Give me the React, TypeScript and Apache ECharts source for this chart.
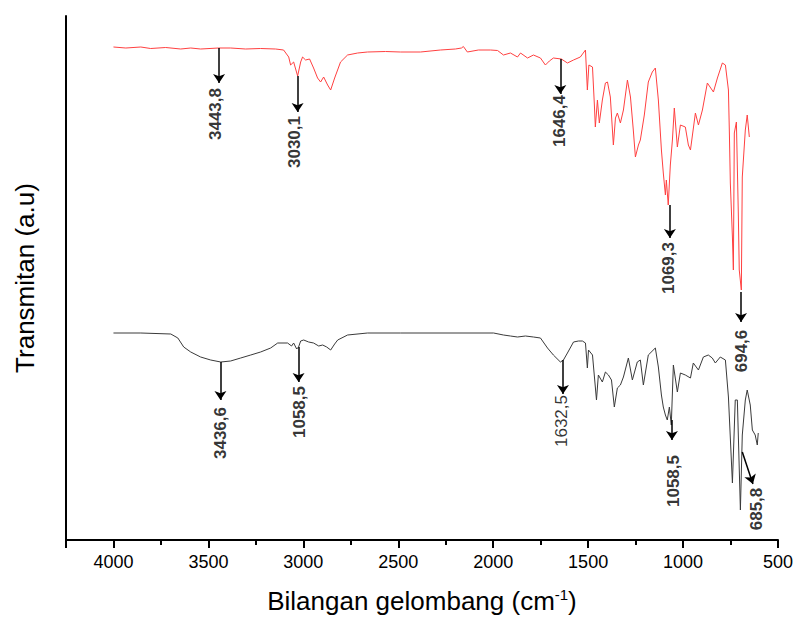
import React, { useEffect, useRef } from "react";
import * as echarts from "echarts";

// Wavenumber (cm-1) vs transmittance (arbitrary units)
const redSpectrum: number[][] = [
  [4000,493],[3935,492],[3856,493],[3804,491.5],[3725,492.5],[3646,491],[3593,492],[3541,491],[3446,492],[3383,492],
  [3304,491],[3225,491.5],[3146,491],[3104,490],[3077,483],[3067,475],[3051,478],[3030,464],[3014,478],[3004,483],
  [2988,480],[2967,481],[2946,472],[2925,462],[2909,458],[2893,463],[2872,455],[2856,450],[2835,462],[2804,478],
  [2767,485],[2714,487],[2662,488],[2567,488.5],[2488,488],[2383,488],[2278,490],[2199,491],[2167,492],[2157,493.5],
  [2136,488],[2078,490],[2014,490],[1977,489.5],[1946,485],[1909,487],[1872,483],[1856,487],[1819,482],[1788,485],
  [1751,482],[1725,475],[1704,479],[1683,482],[1641,481],[1609,477],[1577,480],[1541,483],[1514,490],[1504,450],
  [1496,475],[1477,473],[1467,435],[1462,413],[1451,440],[1441,417],[1425,440],[1409,457],[1398,458],[1383,443],
  [1372,410],[1367,395],[1356,422],[1346,427],[1330,417],[1314,430],[1293,460],[1277,443],[1262,410],[1251,383],
  [1235,395],[1225,400],[1204,425],[1183,458],[1162,468],[1146,472],[1130,440],[1114,390],[1104,367],[1093,345],
  [1088,360],[1078,335],[1067,375],[1056,400],[1046,432],[1030,393],[1014,415],[988,413],[972,395],[961,390],
  [935,427],[919,415],[898,430],[872,457],[840,448],[819,462],[793,477],[777,475],[761,450],[756,407],
  [751,357],[740,303],[735,270],[730,407],[719,418],[709,327],[704,270],[693,250],[688,363],[672,410],
  [662,425],[651,403]
];

const blackSpectrum: number[][] = [
  [4000,207],[3856,207],[3698,206],[3661,202],[3630,193],[3593,188],[3541,183],[3488,180],[3435,178],[3383,179],
  [3330,182],[3277,185],[3225,188],[3172,192],[3135,197],[3083,197],[3062,194],[3051,197],[3035,191],[3025,193],
  [3014,199],[2998,200],[2972,198],[2946,197],[2919,194],[2898,195],[2877,193],[2856,190],[2835,196],[2819,200],
  [2767,205],[2662,207],[2488,207],[1998,207],[1946,205],[1909,204],[1872,203],[1830,204],[1788,203],[1751,202],
  [1714,192],[1683,185],[1646,178],[1630,180],[1609,187],[1577,198],[1551,199],[1530,199],[1514,197],[1504,172],
  [1498,190],[1477,185],[1456,140],[1446,165],[1425,158],[1409,168],[1393,165],[1377,160],[1362,133],[1346,152],
  [1330,155],[1314,163],[1288,182],[1267,160],[1241,178],[1225,180],[1209,155],[1183,185],[1146,192],[1130,173],
  [1114,145],[1104,133],[1093,125],[1083,120],[1072,133],[1062,115],[1051,175],[1030,148],[1014,167],[988,165],
  [961,162],[946,177],[919,170],[893,183],[867,185],[846,182],[830,177],[804,183],[777,180],[761,143],
  [740,57],[725,140],[714,140],[698,30],[688,105],[672,140],[662,150],[646,135],[635,110],[620,105],
  [609,95],[604,107]
];

// Peak annotations
const peakLabels = ["3443,8", "3030,1", "1646,4", "1069,3", "694,6", "3436,6", "1058,5", "1632,5", "1058,5", "685,8"];
const arrowFrom: number[][] = [[3443.8,492],[3030.1,464],[1646.4,481],[1069.3,335],[694.6,248],[3436.6,178],[3025,193],[1632.5,180],[1058.5,120],[688,88]];
const arrowTo: number[][] = [[3443.8,457],[3030.1,428],[1646.4,446],[1069.3,302],[694.6,218],[3436.6,140],[3025,158],[1632.5,146],[1058.5,100],[632,56]];
const labelAt: number[][] = [[3462,426],[3046,398],[1651,419],[1077,272],[693,189],[3435,107],[3022,128],[1641,119],[1049,59],[615,31]];
const labelBold = [true, true, true, true, true, true, true, false, true, true];

const xTickMin = 500;
const xTickMax = 4250;
const xTickStep = 500;

const FONT = "'Liberation Sans', Arial, sans-serif";

export default function App() {
  const ref = useRef<HTMLDivElement>(null);

  useEffect(() => {
    if (!ref.current) return;
    const chart = echarts.init(ref.current, undefined, { renderer: "svg" });
    chart.setOption({
      animation: false,
      backgroundColor: "#ffffff",
      grid: { left: 66, right: 18, top: 16, bottom: 81, containLabel: false },
      xAxis: {
        type: "value",
        inverse: true,
        min: xTickMin,
        max: xTickMax,
        interval: xTickStep,
        name: "Bilangan gelombang (cm{sup|-1})",
        nameLocation: "middle",
        nameGap: 47,
        nameTextStyle: {
          fontFamily: FONT,
          fontSize: 26,
          color: "#000",
          rich: {
            sup: { fontFamily: FONT, fontSize: 15, color: "#000", padding: [0, 0, 12, 0] },
          },
        },
        axisLine: { show: true, onZero: false, lineStyle: { color: "#000", width: 2 } },
        axisTick: { show: true, length: 8, lineStyle: { color: "#000", width: 2 } },
        minorTick: { show: true, splitNumber: 2, length: 5, lineStyle: { color: "#000", width: 2 } },
        axisLabel: {
          show: true,
          fontFamily: FONT,
          fontSize: 18,
          color: "#000",
          margin: 13,
          showMaxLabel: false,
          formatter: (v: number) => String(v),
        },
        splitLine: { show: false },
        minorSplitLine: { show: false },
      },
      yAxis: {
        type: "value",
        min: 0,
        max: 524,
        name: "Transmitan (a.u)",
        nameLocation: "middle",
        nameGap: 28,
        nameTextStyle: { fontFamily: FONT, fontSize: 26, color: "#000" },
        axisLine: { show: true, onZero: false, lineStyle: { color: "#000", width: 2 } },
        axisTick: { show: false },
        axisLabel: { show: false },
        splitLine: { show: false },
      },
      series: [
        {
          type: "line",
          data: redSpectrum,
          showSymbol: false,
          symbol: "none",
          lineStyle: { color: "#ff4040", width: 1 },
          z: 2,
        },
        {
          type: "line",
          data: blackSpectrum,
          showSymbol: false,
          symbol: "none",
          lineStyle: { color: "#3a3a3a", width: 1 },
          z: 2,
        },
        {
          type: "lines",
          coordinateSystem: "cartesian2d",
          symbol: ["none", "arrow"],
          symbolSize: [0, 9],
          lineStyle: { color: "#000", width: 1.5, opacity: 1, curveness: 0 },
          data: arrowFrom.map((p, i) => ({ coords: [p, arrowTo[i]] })),
          z: 3,
        },
        {
          type: "scatter",
          symbolSize: 0,
          data: labelAt.map((p, i) => ({
            value: p,
            name: peakLabels[i],
            label: { fontWeight: labelBold[i] ? "bold" : "normal", color: "#000" },
          })),
          label: {
            show: true,
            position: "inside",
            rotate: 90,
            formatter: (p: any) => p.name,
            fontFamily: FONT,
            fontSize: 17,
            color: "#000",
            textBorderWidth: 0,
            align: "center",
            verticalAlign: "middle",
          },
          z: 4,
        },
      ],
    });
    return () => chart.dispose();
  }, []);

  return (
    <div
      ref={ref}
      style={{ position: "fixed", left: 0, top: 0, width: 796, height: 621, background: "#fff" }}
    />
  );
}
